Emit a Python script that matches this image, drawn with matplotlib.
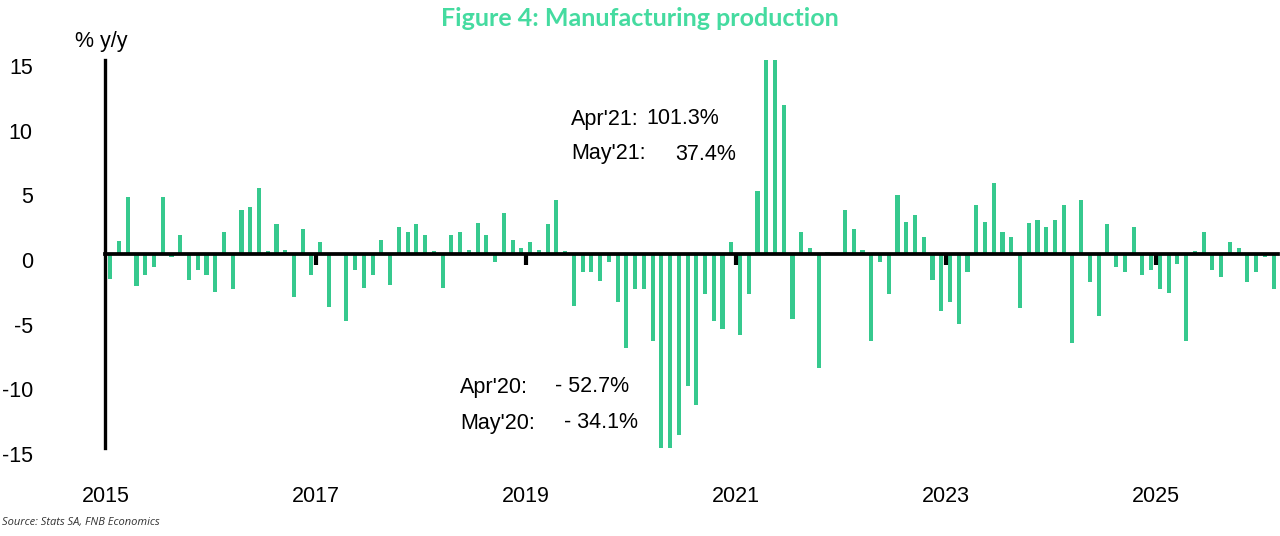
import matplotlib
matplotlib.use("Agg")
import matplotlib.pyplot as plt
import matplotlib.transforms as mtransforms
import numpy as np

# Monthly manufacturing production, % y/y, Jan 2015 - Feb 2026
y2015 = [-1.9, 1.0, 4.4, -2.5, -1.6, -1.0, 4.4, -0.2, 1.5, -2.0, -1.2, -1.6]
y2016 = [-2.9, 1.7, -2.7, 3.4, 3.6, 5.1, 0.2, 2.3, 0.3, -3.3, 1.9, -1.6]
y2017 = [0.95, -4.1, 0.0, -5.2, -1.2, -2.6, -1.6, 1.1, -2.4, 2.05, 1.7, 2.3]
y2018 = [1.5, 0.2, -2.6, 1.5, 1.7, 0.3, 2.4, 1.5, -0.65, 3.2, 1.1, 0.5]
y2019 = [0.95, 0.3, 2.3, 4.15, 0.2, -4.0, -1.4, -1.4, -2.1, -0.6, -3.7, -7.3]
y2020 = [-2.7, -2.7, -6.7, -52.7, -34.1, -14.0, -10.2, -11.7, -3.1, -5.2, -5.8, 0.95]
y2021 = [-6.3, -3.1, 4.9, 101.3, 37.4, 11.5, -5.0, 1.67, 0.5, -8.8, 0.15, 0.0]
y2022 = [3.4, 1.9, 0.3, -6.7, -0.6, -3.1, 4.6, 2.5, 3.0, 1.3, -2.0, -4.4]
y2023 = [-3.7, -5.4, -1.4, 3.8, 2.5, 5.5, 1.7, 1.3, -4.2, 2.4, 2.6, 2.05]
y2024 = [2.6, 3.8, -6.9, 4.15, -2.2, -4.8, 2.3, -1.0, -1.4, 2.05, -1.6, -1.2]
y2025 = [-2.7, -3.0, -0.8, -6.7, 0.2, 1.7, -1.2, -1.8, 0.9, 0.5, -2.2, -1.4]
y2026 = [-0.25, -2.7]

values = (y2015 + y2016 + y2017 + y2018 + y2019 + y2020 + y2021 + y2022
          + y2023 + y2024 + y2025 + y2026)
first_year = 2015
year_labels = ["2015", "2017", "2019", "2021", "2023", "2025"]
y_ticks = [-15, -10, -5, 0, 5, 10, 15]

ann_2021_labels = ["Apr'21:", "May'21:"]
ann_2021_values = ["101.3%", "37.4%"]
ann_2020_labels = ["Apr'20:", "May'20:"]
ann_2020_values = ["- 52.7%", "- 34.1%"]

bar_color = "#36c98e"
title_color = "#45dba0"
FS = 15.5

plt.rcParams['font.family'] = ['Liberation Sans', 'DejaVu Sans']

W, H = 1280, 536
fig = plt.figure(figsize=(W / 100, H / 100), dpi=100)
ax = fig.add_axes([105 / W, 1 - 448 / H, (1278 - 105) / W, (448 - 60) / H])


def px(xp, yp):
    return xp / W, 1 - yp / H


n = len(values)
x = np.arange(n)
ax.bar(x, values, width=0.47, color=bar_color, zorder=2)

ax.set_ylim(-15, 15)
ax.set_xlim(-0.6, n - 0.5)

# y axis
ax.set_yticks(y_ticks)
ax.set_yticklabels([str(t) for t in y_ticks], fontsize=FS)
ax.tick_params(axis='y', length=0, pad=52)
for lab in ax.get_yticklabels():
    lab.set_horizontalalignment('right')
    lab.set_transform(lab.get_transform() + mtransforms.ScaledTranslation(0, -6 / 100, fig.dpi_scale_trans))
ax.spines['left'].set_linewidth(2.4)
ax.spines['left'].set_color('black')
for s in ['top', 'right', 'bottom']:
    ax.spines[s].set_visible(False)

# year label positions at January boundaries
label_pos = [(int(l) - first_year) * 12 - 0.5 for l in year_labels]
ax.set_xticks(label_pos)
ax.set_xticklabels(year_labels, fontsize=FS)
ax.tick_params(axis='x', length=0, pad=27)

# zero baseline with year tick marks
sec = ax.secondary_xaxis(0.5)
sec.set_alignment('bottom')
sec.set_xticks(label_pos[1:])
sec.set_xticklabels([])
sec.tick_params(axis='x', direction='out', length=8, width=3, color='black')
sec.spines['bottom'].set_linewidth(2.7)
sec.spines['bottom'].set_color('black')
sec.spines['top'].set_visible(False)
sec.set_zorder(5)

# y unit label
fig.text(*px(101, 41), "% y/y", fontsize=FS, ha='center', va='center')

# annotations
fig.text(*px(571, 119), ann_2021_labels[0], fontsize=FS, va='center')
fig.text(*px(571, 154), ann_2021_labels[1], fontsize=FS, va='center')
fig.text(*px(646, 119), ann_2021_values[0], fontsize=FS, va='center')
fig.text(*px(675, 154), ann_2021_values[1], fontsize=FS, va='center')
fig.text(*px(460, 387), ann_2020_labels[0], fontsize=FS, va='center')
fig.text(*px(460, 423), ann_2020_labels[1], fontsize=FS, va='center')
fig.text(*px(555, 387), ann_2020_values[0], fontsize=FS, va='center')
fig.text(*px(564, 423), ann_2020_values[1], fontsize=FS, va='center')

# title
fig.text(*px(640, 18), "Figure 4: Manufacturing production", fontsize=18,
         fontweight='bold', color=title_color, ha='center', va='center',
         family=['Lato', 'DejaVu Sans'])

# source
fig.text(*px(2, 523), "Source: Stats SA, FNB Economics", fontsize=8,
         style='italic', color='#333333', ha='left', va='center',
         family=['Open Sans', 'DejaVu Sans'])

fig.savefig("out.png", dpi=100)
